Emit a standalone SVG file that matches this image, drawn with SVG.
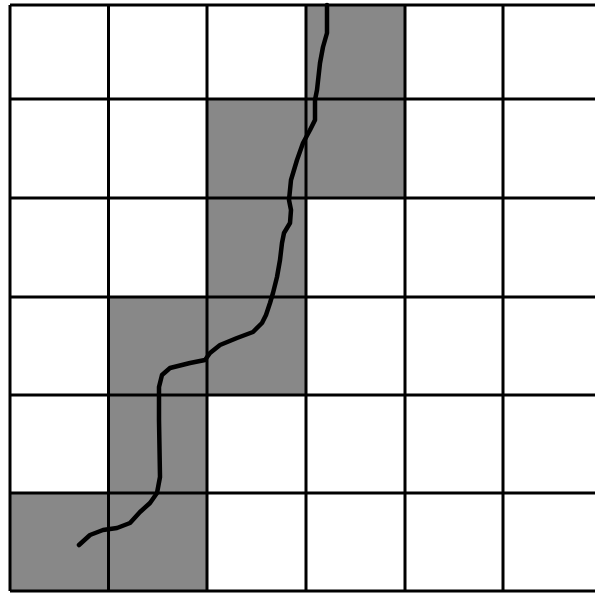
<svg xmlns="http://www.w3.org/2000/svg" width="595" height="593" viewBox="0 0 595 593">
<style>
.cell{fill:#888888;stroke:none}
.grid line{stroke:#000;stroke-width:3}
.path{fill:none;stroke:#000;stroke-width:4.5;stroke-linejoin:round;stroke-linecap:round}
</style>
<rect width="595" height="593" fill="#fff"/>
<g id="shaded">
<rect class="cell" x="306" y="5" width="99" height="94"/>
<rect class="cell" x="207" y="99" width="198" height="99"/>
<rect class="cell" x="207" y="198" width="99" height="99"/>
<rect class="cell" x="108.5" y="297" width="197.5" height="98"/>
<rect class="cell" x="108.5" y="395" width="98.5" height="98"/>
<rect class="cell" x="10" y="493" width="197" height="98"/>
</g>
<g id="grid" class="grid">
<line x1="10" y1="5" x2="595" y2="5"/>
<line x1="10" y1="99" x2="595" y2="99"/>
<line x1="10" y1="198" x2="595" y2="198"/>
<line x1="10" y1="297" x2="595" y2="297"/>
<line x1="10" y1="395" x2="595" y2="395"/>
<line x1="10" y1="493" x2="595" y2="493"/>
<line x1="10" y1="591" x2="595" y2="591"/>
<line x1="10" y1="5" x2="10" y2="591"/>
<line x1="108.5" y1="5" x2="108.5" y2="591"/>
<line x1="207" y1="5" x2="207" y2="591"/>
<line x1="306" y1="5" x2="306" y2="591"/>
<line x1="405" y1="5" x2="405" y2="591"/>
<line x1="503" y1="5" x2="503" y2="591"/>
</g>
<g id="connectors">
<path class="path" d="M327,5 L327,33 L323,47 L320,63 L317,90 L315,100 L315,120 L310,130 L303,143 L297,160 L291,180 L289,200 L291,210 L290,223 L284,233 L282,243 L280,260 L277,277 L273,293 L270,303 L266,315 L262,323 L253,332 L237,338 L220,345 L210,353 L205,360 L190,363 L170,368 L162,375 L159,387 L159,420 L160,477 L157,493 L150,503 L140,512 L130,523 L117,528 L103,530 L90,535 L79,545"/>
</g>
</svg>
